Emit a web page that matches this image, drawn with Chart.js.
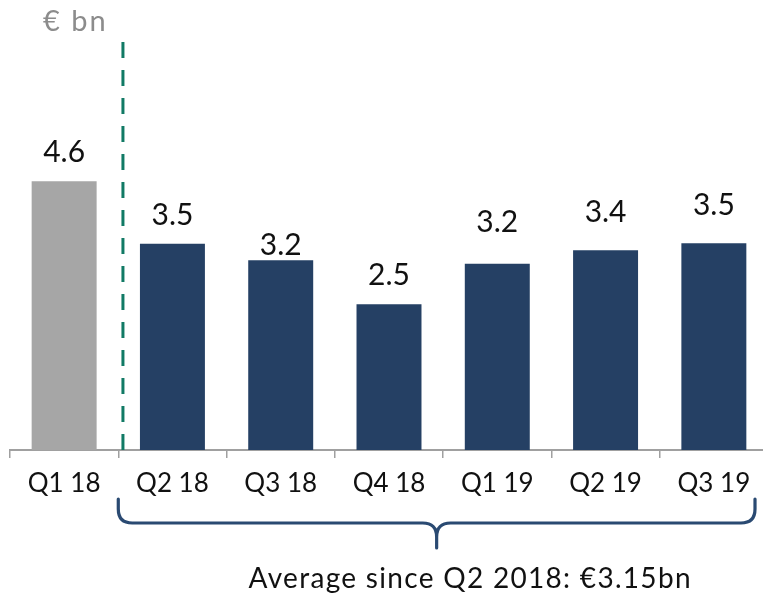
<!DOCTYPE html>
<html>
<head>
<meta charset="utf-8">
<script src="https://cdn.jsdelivr.net/npm/chart.js@4.4.1/dist/chart.umd.min.js"></script>
<style>
  html, body { margin: 0; padding: 0; background: #fff; overflow: hidden; }
  #wrap { width: 768px; height: 594px; position: relative; }
</style>
</head>
<body>
<div id="wrap"><canvas id="chart"></canvas></div>
<script>
// data
const quarters = ['Q1 18', 'Q2 18', 'Q3 18', 'Q4 18', 'Q1 19', 'Q2 19', 'Q3 19'];
const profit = [4.59, 3.52, 3.24, 2.49, 3.18, 3.41, 3.53];
const profitLabels = ['4.6', '3.5', '3.2', '2.5', '3.2', '3.4', '3.5'];
const unitLabel = '€ bn';
const averageNote = 'Average since Q2 2018: €3.15bn';

const GREY = '#a6a6a6';
const NAVY = '#254064';
const FONT = 'Lato';

// labels, dashed split line, brace and notes
const annotations = {
  id: 'annotations',
  afterDatasetsDraw(chart, args, opts) {
    const ctx = chart.ctx;
    const x = chart.scales.x;
    const area = chart.chartArea;
    const bars = chart.getDatasetMeta(0).data;

    ctx.save();
    // value labels above bars
    ctx.fillStyle = '#111';
    ctx.font = '30px ' + FONT;
    ctx.textAlign = 'center';
    ctx.textBaseline = 'alphabetic';
    bars.forEach((b, i) => {
      ctx.fillText(profitLabels[i], b.x, b.y - opts.gaps[i]);
    });

    // unit title
    ctx.fillStyle = '#8c8c8c';
    ctx.font = '29px ' + FONT;
    ctx.textAlign = 'left';
    ctx.letterSpacing = '2px';
    ctx.fillText(unitLabel, 43, 31);

    // dashed separator
    const sx = x.getPixelForValue(0.543);
    ctx.strokeStyle = '#117a65';
    ctx.lineWidth = 3;
    ctx.setLineDash([16, 12]);
    ctx.beginPath();
    ctx.moveTo(sx, area.top + 2);
    ctx.lineTo(sx, area.bottom);
    ctx.stroke();
    ctx.setLineDash([]);

    // brace
    const x0 = x.getPixelForValue(0.5);
    const x1 = x.getPixelForValue(6.38);
    const xm = (x0 + x1) / 2;
    const yTop = area.bottom + 49;
    const yMid = area.bottom + 73;
    const yTip = area.bottom + 98;
    const r = 14;
    ctx.strokeStyle = '#2a4a72';
    ctx.lineWidth = 3.2;
    ctx.lineCap = 'round';
    ctx.beginPath();
    ctx.moveTo(x0, yTop);
    ctx.lineTo(x0, yMid - r);
    ctx.quadraticCurveTo(x0, yMid, x0 + r, yMid);
    ctx.lineTo(xm - r, yMid);
    ctx.quadraticCurveTo(xm, yMid, xm, yMid + r);
    ctx.lineTo(xm, yTip);
    ctx.moveTo(xm, yMid + r);
    ctx.quadraticCurveTo(xm, yMid, xm + r, yMid);
    ctx.lineTo(x1 - r, yMid);
    ctx.quadraticCurveTo(x1, yMid, x1, yMid - r);
    ctx.lineTo(x1, yTop);
    ctx.stroke();

    // average note
    ctx.fillStyle = '#111';
    ctx.font = '28px ' + FONT;
    ctx.letterSpacing = '1.3px';
    ctx.textAlign = 'center';
    ctx.fillText(averageNote, x.getPixelForValue(3.75), 588);
    ctx.restore();
  }
};

new Chart(document.getElementById('chart'), {
  type: 'bar',
  data: {
    labels: quarters,
    datasets: [{
      data: profit,
      backgroundColor: profit.map((v, i) => i === 0 ? GREY : NAVY),
      barPercentage: 0.6,
      categoryPercentage: 1
    }]
  },
  options: {
    responsive: true,
    maintainAspectRatio: false,
    animation: false,
    events: [],
    layout: { padding: { top: 40, left: 10, right: 0, bottom: 0 } },
    plugins: {
      legend: { display: false },
      tooltip: { enabled: false },
      annotations: { gaps: [19, 19, 5, 19, 32, 28, 28] }
    },
    scales: {
      x: {
        afterFit(scale) { scale.height = 144; },
        grid: {
          offset: true,
          drawOnChartArea: false,
          drawTicks: true,
          tickLength: 8,
          color: '#a0a0a0',
          lineWidth: 1.5
        },
        border: { color: '#a0a0a0', width: 2 },
        ticks: {
          color: '#111',
          padding: 10,
          font: { family: FONT, size: 26 }
        }
      },
      y: { display: false, min: 0, max: 7 }
    }
  },
  plugins: [annotations]
});
</script>
</body>
</html>
